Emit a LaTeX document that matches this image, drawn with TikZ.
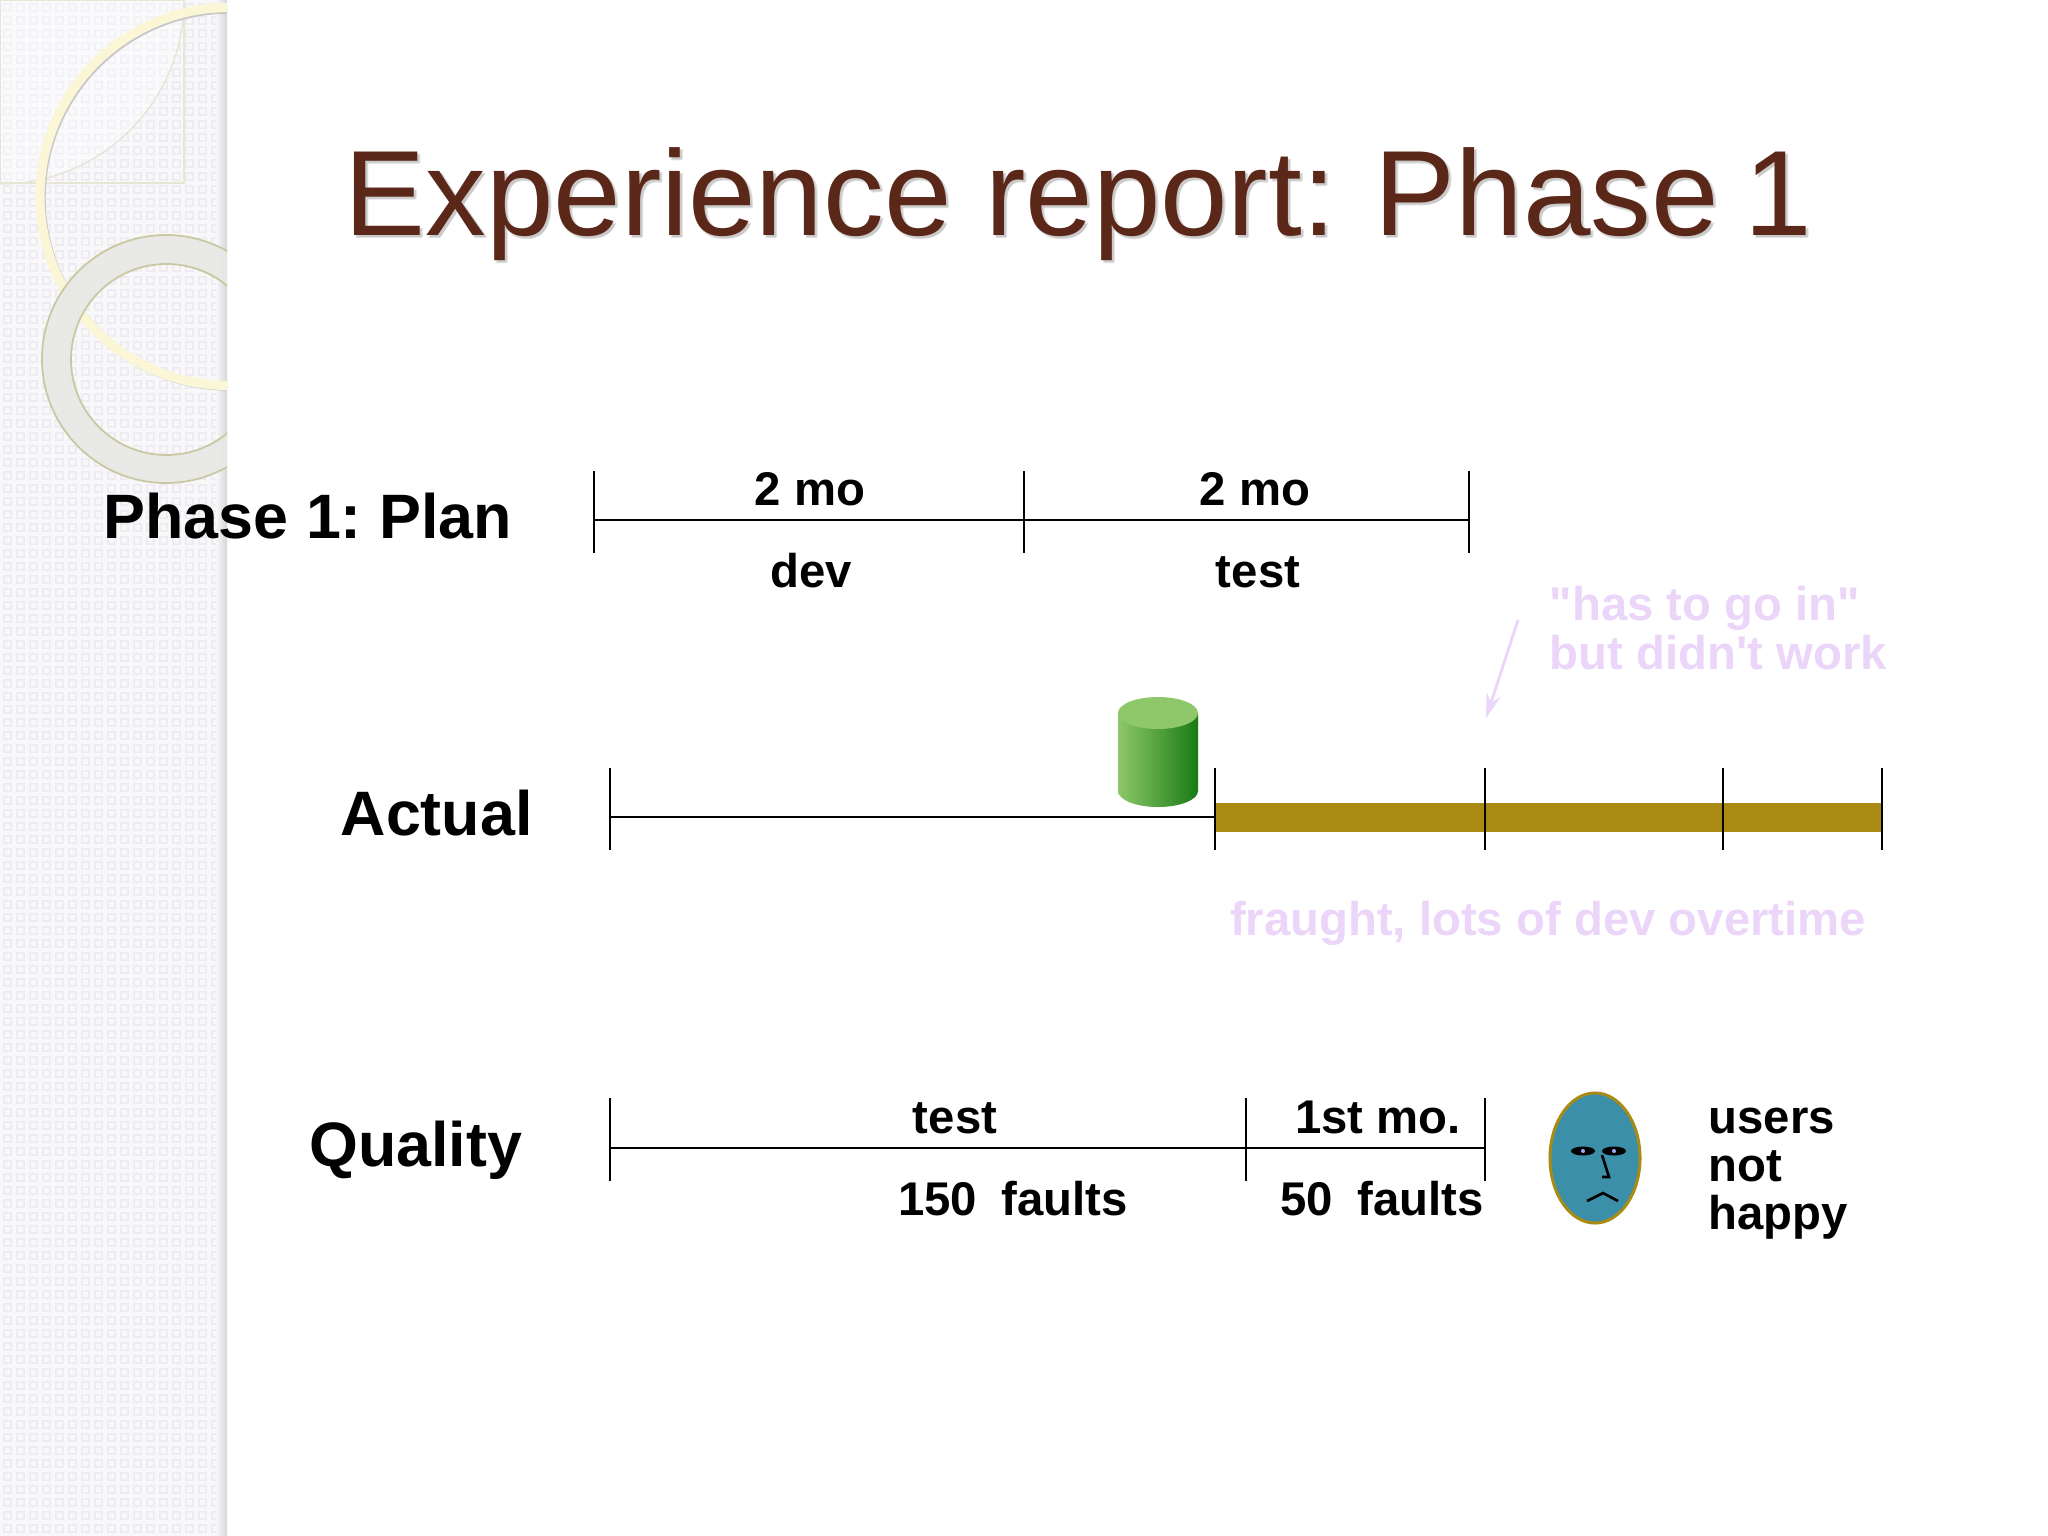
\documentclass[tikz,border=0pt]{standalone}
\usepackage{fontspec}
\setmainfont{Liberation Sans}[Ligatures=TeXOff]
\usepackage{xcolor}
\usepackage{tikz}
\usetikzlibrary{calc, shapes.geometric, arrows.meta, positioning}
\definecolor{titlebrown}{HTML}{5A2718}
\definecolor{notepink}{HTML}{EBD6F9}
\definecolor{barolive}{HTML}{A98B14}
\definecolor{facteal}{HTML}{3B8FA9}
\definecolor{panelbase}{HTML}{F8F7F9}
\definecolor{paneldot}{HTML}{EEECF1}
\definecolor{ringcream}{HTML}{FBF7D6}
\definecolor{ringgray}{HTML}{E8E8E5}
\definecolor{ringedge}{HTML}{C9C8A2}
\definecolor{cylinderlight}{HTML}{8EC86A}
\definecolor{cylindermid}{HTML}{76B05C}
\definecolor{cylinderdark}{HTML}{187A14}
\frenchspacing
\tikzset{
  rule/.style={black, line width=0.75pt},
  bigtext/.style={font=\fontsize{17.85}{21}\selectfont\bfseries, inner sep=0pt, anchor=base west},
  smalltext/.style={font=\fontsize{13.45}{14}\selectfont\bfseries, inner sep=0pt, anchor=base},
  pinktext/.style={smalltext, text=notepink},
  titletext/.style={font=\fontsize{34.5}{40}\selectfont, inner sep=0pt, anchor=base west},
  eyeball/.style={ellipse, fill=black, inner sep=0pt, minimum width=0.24cm, minimum height=0.09cm}
}
\newcommand{\slidetitle}{Experience report:\hspace{0.044em} Phase\hspace{-0.065em} 1}
\begin{document}
\begin{tikzpicture}[x=0.01cm, y=-0.01cm]
\useasboundingbox (0,0) rectangle (2048,1536);
\fill[white] (0,0) rectangle (2048,1536);
% left panel
\fill[panelbase] (0,0) rectangle (227,1536);
\foreach \x in {4,17,...,212}
  \foreach \y in {4,17,...,1530}
    \draw[paneldot, line width=0.6pt] (\x,\y) rectangle ++(7,7);
\shade[left color=panelbase, right color=black!16] (216,0) rectangle (227,1536);
\begin{scope}
\clip (0,0) rectangle (227,1536);
\fill[white, fill opacity=0.35] (0,0) -- (184,0) arc (0:90:184) -- cycle;
\draw[ringedge!55, line width=0.3pt] (184,0) arc (0:90:184);
\draw[ringedge!45, line width=0.4pt] (184,0) -- (184,183) -- (0,183) -- (0,0) -- cycle;
\draw[black!22, line width=2.4pt] (230,198) circle (188.5);
\draw[ringcream, line width=2.6pt] (229,196.5) circle (189);
\fill[ringgray, fill opacity=0.9, even odd rule] (166,359) circle (124) (166.5,359.5) circle (95.5);
\draw[ringedge, line width=0.5pt] (166,359) circle (124);
\draw[ringedge, line width=0.5pt] (166.5,359.5) circle (95.5);
\end{scope}
% title
\node[titletext, text=black!40, opacity=0.3] at (346,238.5) {\slidetitle};
\node[titletext, text=black!40, opacity=0.3] at (347,237) {\slidetitle};
\node[titletext, text=titlebrown] (title) at (344,235) {\slidetitle};
% plan
\coordinate (plana) at (594,520);
\coordinate (planb) at (1024,520);
\coordinate (planc) at (1469,520);
\foreach \c in {plana,planb,planc}
  \draw[rule] (\c) ++(0,-49) -- ++(0,82);
\draw[rule] (plana) -- (planb) -- (planc);
\node[bigtext] (planlabel) at (103,538) {Phase 1: Plan};
\node[smalltext] (plantopa) at (810,505) {2 mo};
\node[smalltext] (plantopb) at (1255,505) {2 mo};
\node[smalltext] (plandev) at (811,587) {dev};
\node[smalltext] (plantest) at (1258,587) {test};
% actual
\coordinate (actuala) at (610,817);
\coordinate (actualb) at (1215,817);
\coordinate (actualc) at (1485,817);
\coordinate (actuald) at (1723,817);
\coordinate (actuale) at (1882,817);
\fill[barolive] (1215,803) rectangle (1882,832);
\foreach \c in {actuala,actualb,actualc,actuald,actuale}
  \draw[rule] (\c) ++(0,-49) -- ++(0,82);
\draw[rule] (actuala) -- (actualb);
\node[bigtext] (actuallabel) at (340,835) {Actual};
% cylinder
\shade[left color=cylinderlight, middle color=cylindermid, right color=cylinderdark]
  (1118,713) -- (1118,791) arc (180:0:40 and 16) -- (1198,713) -- cycle;
\fill[cylinderlight] (1158,713) ellipse (40 and 16);
\coordinate (notetail) at (1518,620);
\coordinate (notetip) at (1486,718);
\draw[notepink, line width=0.8pt, -{Stealth[length=7pt, width=4.2pt, inset=2.5pt]}] (notetail) -- (notetip);
\node[pinktext, anchor=north west, align=left] (notetop) at (1549,586) {"has to go in"\\[-0.3pt]but didn't work};
\node[pinktext] (notelow) at (1548,935) {fraught, lots of dev overtime};
% quality
\coordinate (qualitya) at (610,1148);
\coordinate (qualityb) at (1246,1148);
\coordinate (qualityc) at (1485,1148);
\foreach \c in {qualitya,qualityb,qualityc}
  \draw[rule] (\c) ++(0,-50) -- ++(0,83);
\draw[rule] (qualitya) -- (qualityb) -- (qualityc);
\node[bigtext] (qualitylabel) at (308.5,1166) {Quality};
\node[smalltext] (qualitytest) at (955,1133) {test};
\node[smalltext] (qualitymonth) at (1378,1133) {1st mo.};
\node[smalltext] (qualityhigh) at (1013,1215) {150\hspace{0.52em}faults};
\node[smalltext] (qualitylow) at (1382,1215) {50\hspace{0.52em}faults};
% face
\node[ellipse, fill=facteal, draw=barolive, line width=0.85pt, inner sep=0pt, minimum width=0.9cm, minimum height=1.3cm] (face) at (1595,1158) {};
\node[eyeball] (eyeleft) at (1583,1151) {};
\node[eyeball] (eyeright) at (1614,1151) {};
\fill[blue!35!white] (eyeleft) circle (2);
\fill[blue!35!white] (eyeright) circle (2);
\draw[rule] (1602,1155) -- (1609,1177) -- (1602,1177);
\draw[rule] (1587,1201) -- (1603,1193) -- (1618,1201);
\node[smalltext, anchor=north west, align=left] (usersnote) at (1708,1107) {users\\[-0.3pt]not\\[-0.3pt]happy};
\end{tikzpicture}
\end{document}
